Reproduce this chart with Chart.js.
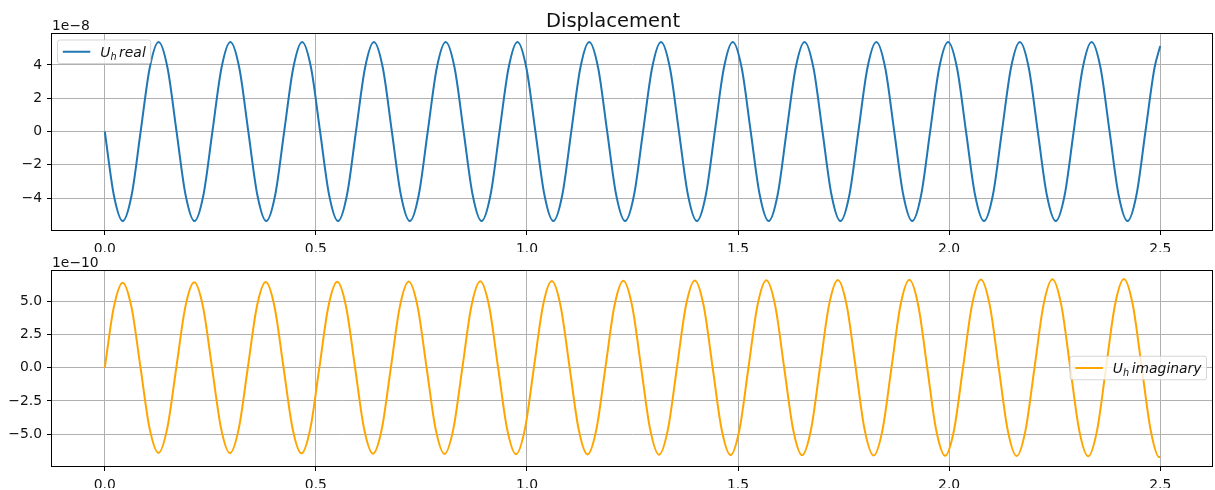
<!DOCTYPE html>
<html>
<head>
<meta charset="utf-8">
<title>Displacement</title>
<script src="https://cdn.jsdelivr.net/npm/chart.js@4.4.0/dist/chart.umd.min.js"></script>
<style>
  body { margin: 0; background: #fff; }
  #wrap { position: relative; width: 1215px; height: 490px; }
  #wrap canvas { position: absolute; left: 0; top: 0; }
</style>
</head>
<body>
<div id="wrap">
  <canvas id="realChart" width="1215" height="490"></canvas>
  <canvas id="imagChart" width="1215" height="490"></canvas>
</div>
<script>
// time samples (s) and displacement, in units of 1e-8 (real) and 1e-10 (imag)
const tReal = [
  0, 0.0213, 0.0425, 0.0638, 0.085, 0.1063, 0.1275, 0.1488,
  0.17, 0.1913, 0.2125, 0.2338, 0.255, 0.2763, 0.2975, 0.3188,
  0.34, 0.3613, 0.3825, 0.4038, 0.425, 0.4463, 0.4675, 0.4888,
  0.51, 0.5313, 0.5525, 0.5738, 0.595, 0.6163, 0.6375, 0.6588,
  0.68, 0.7013, 0.7225, 0.7438, 0.765, 0.7863, 0.8075, 0.8288,
  0.85, 0.8713, 0.8925, 0.9138, 0.935, 0.9563, 0.9775, 0.9988,
  1.02, 1.0413, 1.0625, 1.0838, 1.105, 1.1263, 1.1475, 1.1688,
  1.19, 1.2113, 1.2325, 1.2538, 1.275, 1.2963, 1.3175, 1.3388,
  1.36, 1.3813, 1.4025, 1.4238, 1.445, 1.4663, 1.4875, 1.5088,
  1.53, 1.5513, 1.5725, 1.5938, 1.615, 1.6363, 1.6575, 1.6788,
  1.70, 1.7213, 1.7425, 1.7638, 1.785, 1.8063, 1.8275, 1.8488,
  1.87, 1.8913, 1.9125, 1.9338, 1.955, 1.9763, 1.9975, 2.0188,
  2.04, 2.0613, 2.0825, 2.1038, 2.125, 2.1463, 2.1675, 2.1888,
  2.21, 2.2313, 2.2525, 2.2738, 2.295, 2.3163, 2.3375, 2.3588,
  2.38, 2.4013, 2.4225, 2.4438, 2.465, 2.4863, 2.5
];
const uReal = [
  0, -3.8, -5.38, -3.8, 0, 3.8, 5.38, 3.8,
  0, -3.8, -5.38, -3.8, 0, 3.8, 5.38, 3.8,
  0, -3.8, -5.38, -3.8, 0, 3.8, 5.38, 3.8,
  0, -3.8, -5.38, -3.8, 0, 3.8, 5.38, 3.8,
  0, -3.8, -5.38, -3.8, 0, 3.8, 5.38, 3.8,
  0, -3.8, -5.38, -3.8, 0, 3.8, 5.38, 3.8,
  0, -3.8, -5.38, -3.8, 0, 3.8, 5.38, 3.8,
  0, -3.8, -5.38, -3.8, 0, 3.8, 5.38, 3.8,
  0, -3.8, -5.38, -3.8, 0, 3.8, 5.38, 3.8,
  0, -3.8, -5.38, -3.8, 0, 3.8, 5.38, 3.8,
  0, -3.8, -5.38, -3.8, 0, 3.8, 5.38, 3.8,
  0, -3.8, -5.38, -3.8, 0, 3.8, 5.38, 3.8,
  0, -3.8, -5.38, -3.8, 0, 3.8, 5.38, 3.8,
  0, -3.8, -5.38, -3.8, 0, 3.8, 5.38, 3.8,
  0, -3.8, -5.38, -3.8, 0, 3.8, 5.14
];
const tImag = [
  0, 0.0212, 0.0424, 0.0635, 0.0847, 0.1059, 0.1271, 0.1482,
  0.1694, 0.1906, 0.2118, 0.2329, 0.2541, 0.2753, 0.2965, 0.3176,
  0.3388, 0.36, 0.3812, 0.4023, 0.4235, 0.4447, 0.4659, 0.487,
  0.5082, 0.5294, 0.5506, 0.5717, 0.5929, 0.6141, 0.6353, 0.6564,
  0.6776, 0.6988, 0.72, 0.7411, 0.7623, 0.7835, 0.8047, 0.8258,
  0.847, 0.8682, 0.8894, 0.9105, 0.9317, 0.9529, 0.9741, 0.9952,
  1.0164, 1.0376, 1.0588, 1.0799, 1.1011, 1.1223, 1.1435, 1.1646,
  1.1858, 1.207, 1.2282, 1.2493, 1.2705, 1.2917, 1.3129, 1.334,
  1.3552, 1.3764, 1.3976, 1.4187, 1.4399, 1.4611, 1.4823, 1.5034,
  1.5246, 1.5458, 1.567, 1.5881, 1.6093, 1.6305, 1.6517, 1.6728,
  1.694, 1.7152, 1.7364, 1.7575, 1.7787, 1.7999, 1.8211, 1.8422,
  1.8634, 1.8846, 1.9058, 1.9269, 1.9481, 1.9693, 1.9905, 2.0116,
  2.0328, 2.054, 2.0752, 2.0963, 2.1175, 2.1387, 2.1599, 2.181,
  2.2022, 2.2234, 2.2446, 2.2657, 2.2869, 2.3081, 2.3293, 2.3504,
  2.3716, 2.3928, 2.414, 2.4351, 2.4563, 2.4775, 2.4975, 2.5
];
const uImag = [
  0, 4.52, 6.40, 4.52, 0, -4.52, -6.40, -4.52,
  0, 4.54, 6.42, 4.54, 0, -4.54, -6.42, -4.54,
  0, 4.55, 6.44, 4.55, 0, -4.55, -6.44, -4.55,
  0, 4.57, 6.46, 4.57, 0, -4.57, -6.46, -4.57,
  0, 4.58, 6.48, 4.58, 0, -4.58, -6.48, -4.58,
  0, 4.60, 6.50, 4.60, 0, -4.60, -6.50, -4.60,
  0, 4.61, 6.52, 4.61, 0, -4.61, -6.52, -4.61,
  0, 4.62, 6.54, 4.62, 0, -4.62, -6.54, -4.62,
  0, 4.64, 6.56, 4.64, 0, -4.64, -6.56, -4.64,
  0, 4.65, 6.58, 4.65, 0, -4.65, -6.58, -4.65,
  0, 4.67, 6.60, 4.67, 0, -4.67, -6.60, -4.67,
  0, 4.68, 6.62, 4.68, 0, -4.68, -6.62, -4.68,
  0, 4.69, 6.64, 4.69, 0, -4.69, -6.64, -4.69,
  0, 4.71, 6.66, 4.71, 0, -4.71, -6.66, -4.71,
  0, 4.72, 6.68, 4.72, 0, -4.72, -6.72, -6.72
];

const xTicks = [0, 0.5, 1.0, 1.5, 2.0, 2.5];
const realYTicks = [-4, -2, 0, 2, 4];
const imagYTicks = [-5.0, -2.5, 0.0, 2.5, 5.0];

const FONT = 'DejaVu Sans';
const TEXT = '#111';

function mplLabel(v, digits) {
  const s = Math.abs(v).toFixed(digits);
  return v < 0 ? '\u2212' + s : s;
}

function drawLegendText(ctx, x, baseline, word, measureOnly) {
  let w = 0;
  ctx.font = 'italic 13.9px ' + FONT;
  if (!measureOnly) ctx.fillText('U', x, baseline);
  w += ctx.measureText('U').width;
  ctx.font = 'italic 9.7px ' + FONT;
  if (!measureOnly) ctx.fillText('h', x + w, baseline + 3);
  w += ctx.measureText('h').width + 2.5;
  ctx.font = 'italic 13.9px ' + FONT;
  if (!measureOnly) ctx.fillText(word, x + w, baseline);
  w += ctx.measureText(word).width;
  return w;
}

const mplDecor = {
  id: 'mplDecor',
  afterDraw(chart, args, opts) {
    const { ctx, chartArea: a } = chart;
    ctx.save();
    // axes frame
    const l = Math.round(a.left), t = Math.round(a.top), r = Math.round(a.right), b = Math.round(a.bottom);
    ctx.strokeStyle = '#000';
    ctx.lineWidth = 1;
    ctx.strokeRect(l - 0.5, t + 0.5, r - l, b - t);

    ctx.fillStyle = TEXT;
    ctx.textBaseline = 'alphabetic';
    // offset text
    ctx.font = '13.9px ' + FONT;
    ctx.textAlign = 'left';
    ctx.fillText(opts.offset, l, t - 3);

    if (opts.title) {
      ctx.font = '19.5px ' + FONT;
      ctx.textAlign = 'center';
      ctx.fillText(opts.title, 613, t - 6);
      ctx.textAlign = 'left';
    }

    // legend box
    const lg = opts.legend;
    const textW = drawLegendText(ctx, 0, 0, lg.word, true);
    const boxW = 5.3 + 27.5 + 10 + textW + 5;
    const boxH = 23.5;
    let bx, by;
    if (lg.loc === 'upper left') {
      bx = a.left + 5.5;
      by = a.top + 7;
    } else {
      bx = a.right - 6.5 - boxW;
      by = (a.top + a.bottom) / 2 - boxH / 2;
    }
    ctx.beginPath();
    ctx.roundRect(bx, by, boxW, boxH, 2.5);
    ctx.fillStyle = 'rgba(255,255,255,0.8)';
    ctx.fill();
    ctx.strokeStyle = 'rgba(204,204,204,0.8)';
    ctx.lineWidth = 1;
    ctx.stroke();

    const cy = by + boxH / 2;
    ctx.beginPath();
    ctx.moveTo(bx + 5.3, cy);
    ctx.lineTo(bx + 5.3 + 27.5, cy);
    ctx.strokeStyle = lg.color;
    ctx.lineWidth = 2;
    ctx.stroke();

    ctx.fillStyle = TEXT;
    drawLegendText(ctx, bx + 5.3 + 27.5 + 10, cy + 5, lg.word, false);
    ctx.restore();
  }
};

function makeChart(id, times, values, color, yTicks, yMin, yMax, yDigits, pad, decor) {
  return new Chart(document.getElementById(id), {
    type: 'line',
    data: {
      datasets: [{
        data: times.map((t, i) => ({ x: t, y: values[i] })),
        borderColor: color,
        borderWidth: 2,
        pointRadius: 0,
        fill: false,
        cubicInterpolationMode: 'monotone'
      }]
    },
    options: {
      responsive: false,
      animation: false,
      devicePixelRatio: 1,
      layout: { padding: pad },
      plugins: {
        legend: { display: false },
        tooltip: { enabled: false },
        mplDecor: decor
      },
      scales: {
        x: {
          type: 'linear',
          min: -0.125,
          max: 2.625,
          afterBuildTicks: s => { s.ticks = xTicks.map(v => ({ value: v })); },
          afterFit: s => { s.height = 22; },
          border: { display: false },
          grid: { color: '#b0b0b0', lineWidth: 1, tickLength: 5, tickColor: '#000', tickWidth: 1 },
          ticks: {
            color: TEXT,
            font: { family: FONT, size: 13.9 },
            padding: 6,
            maxRotation: 0,
            autoSkip: false,
            callback: v => mplLabel(v, 1)
          }
        },
        y: {
          type: 'linear',
          min: yMin,
          max: yMax,
          afterBuildTicks: s => { s.ticks = yTicks.map(v => ({ value: v })); },
          afterFit: s => { s.width = 52; },
          border: { display: false },
          grid: { color: '#b0b0b0', lineWidth: 1, tickLength: 5, tickColor: '#000', tickWidth: 1 },
          ticks: {
            color: TEXT,
            font: { family: FONT, size: 13.9 },
            padding: 5,
            autoSkip: false,
            callback: v => mplLabel(v, yDigits)
          }
        }
      }
    },
    plugins: [mplDecor]
  });
}

makeChart('realChart', tReal, uReal, '#1f77b4', realYTicks, -5.92, 5.92, 0,
  { left: 0, right: 2, top: 33, bottom: 238 },
  { offset: '1e\u22128', title: 'Displacement', legend: { loc: 'upper left', word: 'real', color: '#1f77b4' } });

makeChart('imagChart', tImag, uImag, '#ffa500', imagYTicks, -7.39, 7.35, 1,
  { left: 0, right: 2, top: 270, bottom: 2 },
  { offset: '1e\u221210', legend: { loc: 'center right', word: 'imaginary', color: '#ffa500' } });
</script>
</body>
</html>
